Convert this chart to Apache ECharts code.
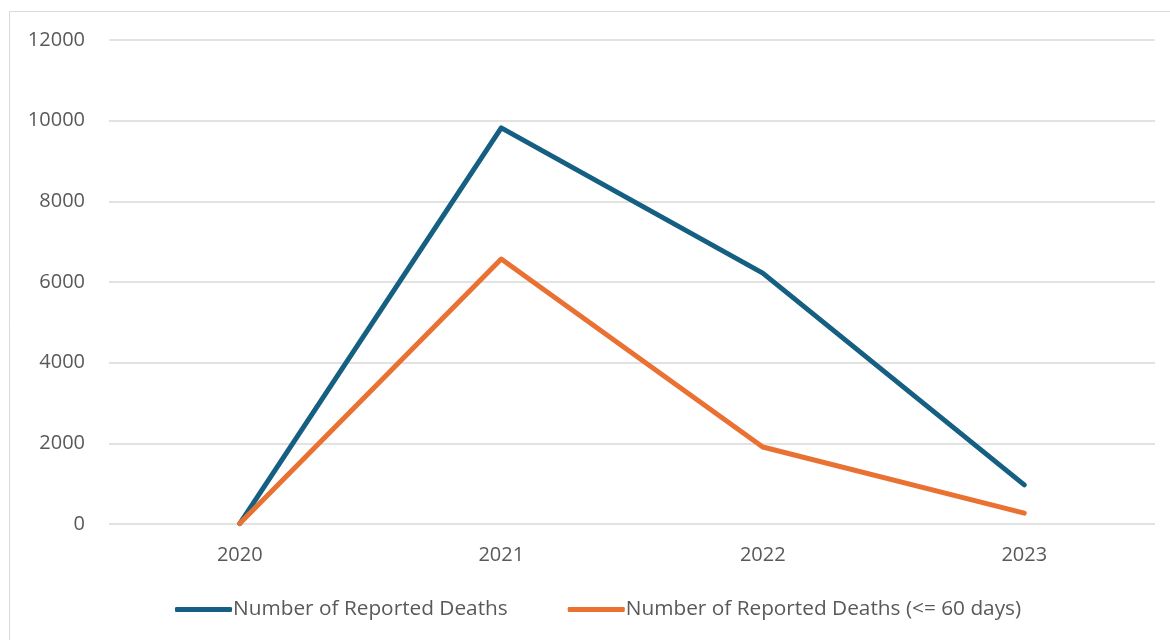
<!DOCTYPE html>
<html style="height: 100%">
<head>
<meta charset="utf-8">
</head>
<body style="height: 100%; margin: 0; background: #fff">
<div id="container" style="width: 1170px; height: 640px"></div>
<script type="text/javascript" src="https://cdn.jsdelivr.net/npm/echarts@6/dist/echarts.min.js"></script>
<script type="text/javascript">
var years = ['2020', '2021', '2022', '2023'];
var reportedDeaths = [10, 9820, 6220, 970];
var reportedDeaths60 = [10, 6570, 1910, 270];
var yTicks = [0, 2000, 4000, 6000, 8000, 10000, 12000];

var font = '"Open Sans", "Liberation Sans", sans-serif';
var chart = echarts.init(document.getElementById('container'));

var option = {
    animation: false,
    backgroundColor: '#fff',
    color: ['#156082', '#E97132'],
    graphic: [
        {
            type: 'polyline',
            silent: true,
            shape: { points: [[9.5, 640], [9.5, 11.5], [1170, 11.5]] },
            style: { stroke: '#d9d9d9', lineWidth: 1, fill: null }
        }
    ],
    grid: { left: 109, right: 15, top: 40, bottom: 116 },
    legend: {
        top: 594,
        left: 170,
        itemGap: 60,
        itemWidth: 57,
        itemHeight: 5,
        icon: 'roundRect',
        textStyle: { fontFamily: font, fontSize: 20.8, color: '#595959', padding: [0, 0, 0, -4] },
        data: ['Number of Reported Deaths', 'Number of Reported Deaths (<= 60 days)']
    },
    xAxis: {
        type: 'category',
        data: years,
        boundaryGap: true,
        axisLine: { show: false },
        axisTick: { show: false },
        axisLabel: { fontFamily: font, fontSize: 20, color: '#595959', margin: 21 }
    },
    yAxis: {
        type: 'value',
        min: yTicks[0],
        max: yTicks[yTicks.length - 1],
        interval: 2000,
        axisLine: { show: false },
        axisTick: { show: false },
        axisLabel: {
            fontFamily: font, fontSize: 20, color: '#595959', margin: 24,
            formatter: function (v) { return String(v); }
        },
        splitLine: { lineStyle: { color: '#d9d9d9', width: 1.5 } }
    },
    series: [
        {
            name: 'Number of Reported Deaths',
            type: 'line',
            data: reportedDeaths,
            showSymbol: false,
            lineStyle: { width: 5, cap: 'round', join: 'round' }
        },
        {
            name: 'Number of Reported Deaths (<= 60 days)',
            type: 'line',
            data: reportedDeaths60,
            showSymbol: false,
            lineStyle: { width: 5, cap: 'round', join: 'round' }
        }
    ]
};
chart.setOption(option);
</script>
</body>
</html>
